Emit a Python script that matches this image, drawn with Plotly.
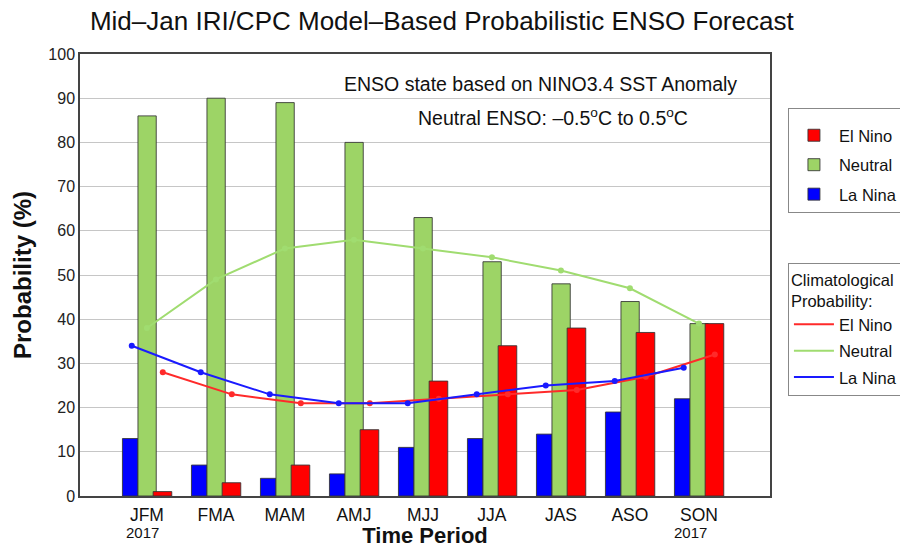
import plotly.graph_objects as go

seasons = ["JFM", "FMA", "MAM", "AMJ", "MJJ", "JJA", "JAS", "ASO", "SON"]
la_nina = [13, 7, 4, 5, 11, 13, 14, 19, 22]
neutral = [86, 90, 89, 80, 63, 53, 48, 44, 39]
el_nino = [1, 3, 7, 15, 26, 34, 38, 37, 39]

clim_el_nino = [28, 23, 21, 21, 22, 23, 24, 27, 32]
clim_neutral = [38, 49, 56, 58, 56, 54, 51, 47, 39]
clim_la_nina = [34, 28, 23, 21, 21, 23, 25, 26, 29]

yticks = [0, 10, 20, 30, 40, 50, 60, 70, 80, 90, 100]

idx = list(range(len(seasons)))

RED = "#ff0000"
GREEN = "#9dd466"
BLUE = "#0000ff"
FONT = "Liberation Sans, Arial, sans-serif"

# the page adds an 8px body margin; size the figure so it fits the 908x548 window
W, H = 900, 540

fig = go.Figure()

bar_line = dict(color="rgba(50,50,50,0.85)", width=1)
fig.add_trace(go.Bar(x=idx, y=la_nina, offset=-0.355, width=0.225, marker=dict(color=BLUE, line=bar_line),
                     name="La Nina", legend="legend", legendgroup="b3", legendrank=3))
fig.add_trace(go.Bar(x=idx, y=neutral, offset=-0.13, width=0.265, marker=dict(color=GREEN, line=bar_line),
                     name="Neutral", legend="legend", legendgroup="b2", legendrank=2))
fig.add_trace(go.Bar(x=idx, y=el_nino, offset=0.09, width=0.27, marker=dict(color=RED, line=bar_line),
                     name="El Nino", legend="legend", legendgroup="b1", legendrank=1))

x_la = [i - 0.22 for i in idx]
x_ne = [i for i in idx]
x_el = [i + 0.23 for i in idx]

for xs, ys, col, nm, rk in [(x_el, clim_el_nino, "#ff2a2a", "El Nino", 1),
                            (x_ne, clim_neutral, "#a0dc70", "Neutral", 2),
                            (x_la, clim_la_nina, "#1a1aff", "La Nina", 3)]:
    fig.add_trace(go.Scatter(x=xs, y=ys, mode="lines", line=dict(color=col, width=2),
                             name=nm, legend="legend2", legendgroup="c%d" % rk, legendrank=rk))
    fig.add_trace(go.Scatter(x=xs, y=ys, mode="markers", marker=dict(color=col, size=6),
                             showlegend=False, hoverinfo="skip"))

fig.update_layout(
    width=W, height=H,
    margin=dict(l=72, r=138, t=46, b=52, autoexpand=False),
    paper_bgcolor="white", plot_bgcolor="white",
    barmode="overlay",
    font=dict(family=FONT, size=16, color="#111"),
    title=dict(text="Mid–Jan IRI/CPC Model–Based Probabilistic ENSO Forecast",
               x=0.482, xref="container", xanchor="center",
               y=1 - 13 / H, yref="container", yanchor="middle",
               font=dict(size=26, family=FONT, color="#111")),
    xaxis=dict(range=[-0.97, 9.03], tickmode="array", tickvals=idx, ticktext=seasons,
               showgrid=False, zeroline=False, showline=True, linecolor="#444", linewidth=1.5,
               mirror=True, ticks="", tickfont=dict(size=17.5), ticklabelstandoff=2,
               automargin=False,
               title=dict(text="<b>Time Period</b>", font=dict(size=22), standoff=3)),
    yaxis=dict(range=[0, 100], tickmode="array", tickvals=yticks,
               showgrid=True, gridcolor="#c6c6c6", gridwidth=1, zeroline=False,
               showline=True, linecolor="#444", linewidth=1.5, mirror=True,
               ticks="", tickfont=dict(size=16, color="#222"), automargin=False,
               title=dict(text="<b>Probability (%)</b>", font=dict(size=24), standoff=10)),
    legend=dict(x=1.026, xanchor="left", y=0.878, yanchor="top",
                bordercolor="#888", borderwidth=1, bgcolor="white",
                font=dict(size=16.5), traceorder="grouped", tracegroupgap=5,
                itemwidth=40, entrywidth=85,
                title=dict(text=" ", side="top", font=dict(size=7))),
    legend2=dict(x=1.026, xanchor="left", y=0.527, yanchor="top",
                 bordercolor="#888", borderwidth=1, bgcolor="white",
                 font=dict(size=16.5), traceorder="grouped", tracegroupgap=2,
                 itemwidth=40, entrywidth=85,
                 title=dict(text="Climatological<br>Probability:", side="top", font=dict(size=16.5))),
    annotations=[
        dict(text="ENSO state based on NINO3.4 SST Anomaly", xref="paper", yref="paper",
             x=0.667, y=0.932, showarrow=False, font=dict(size=19.5), xanchor="center", yanchor="middle"),
        dict(text="Neutral ENSO: –0.5<sup>o</sup>C to 0.5<sup>o</sup>C", xref="paper", yref="paper",
             x=0.686, y=0.857, showarrow=False, font=dict(size=19.5), xanchor="center", yanchor="middle"),
        dict(text="2017", xref="x", yref="paper", x=-0.07, y=(496 - 532) / 442, showarrow=False,
             font=dict(size=15), xanchor="center", yanchor="middle"),
        dict(text="2017", xref="x", yref="paper", x=7.88, y=(496 - 532) / 442, showarrow=False,
             font=dict(size=15), xanchor="center", yanchor="middle"),
    ],
)

fig.write_html("out.html")
